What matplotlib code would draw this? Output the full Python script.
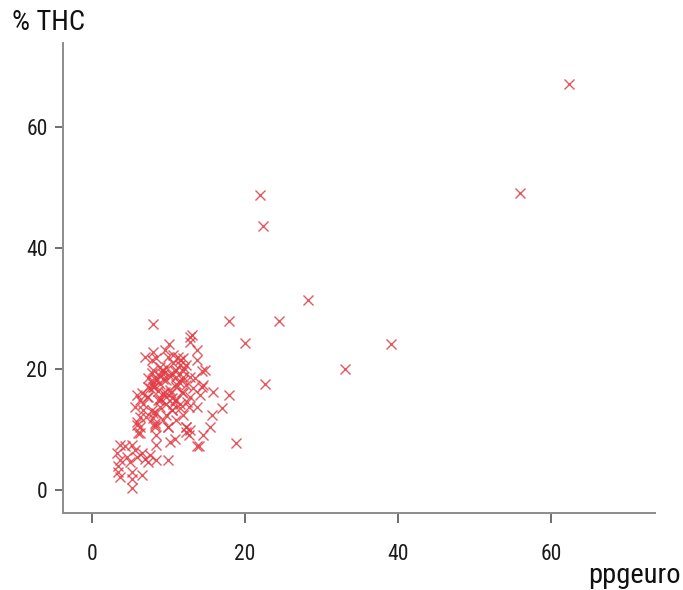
import matplotlib
matplotlib.use('Agg')
import matplotlib.pyplot as plt

plt.rcParams['font.family'] = ['Roboto Condensed', 'DejaVu Sans Condensed',
                               'Liberation Sans Narrow', 'Roboto', 'DejaVu Sans']

# price per gram (euro) vs THC percentage
ppgeuro = [
    62.4, 55.9, 21.9, 22.3, 28.2, 39.1, 33.0, 24.4, 17.9, 20.0, 22.6, 18.8, 7.9,
    17.9, 17.0, 15.8, 15.7, 15.4, 14.5, 13.9, 14.3, 14.3, 12.8, 13.7, 13.7, 14.7,
    3.6, 4.3, 5.2, 5.6, 3.2, 3.6, 4.5, 4.9, 5.8, 6.5, 6.9, 7.3, 7.5, 8.4, 9.9,
    3.4, 3.4, 3.6, 5.2, 5.2, 6.5, 5.2, 8.4, 10.2, 10.8, 6.2, 6.0, 5.8, 8.2, 8.4,
    9.9, 12.3, 12.6, 13.7,
    13.0, 12.8, 10.1, 9.5, 8.0, 6.9, 7.8, 8.4, 10.6, 11.2, 11.9, 11.5, 12.3,
    14.5, 7.3, 7.8, 8.4, 8.0, 8.9, 6.5, 7.3, 6.2, 5.6, 6.7, 7.8, 8.9, 9.7, 10.6,
    8.0, 8.2, 5.8, 6.2, 9.9, 11.0, 11.9, 12.3, 11.9, 12.8, 13.2, 12.3, 11.0,
    11.0, 9.7, 9.3, 9.7, 8.9, 8.0, 10.2, 9.3, 10.4, 11.0, 11.5, 8.9, 8.4, 9.7,
    10.4, 11.5, 14.1, 13.7, 12.6, 12.8, 13.4, 11.9, 10.8, 11.9, 7.3, 5.8,
    8.9, 9.3, 10.6, 11.4, 7.6, 8.6, 9.0, 10.0, 12.0, 7.0, 9.2, 10.9, 12.4, 8.1,
    10.3,
    7.8, 8.4, 8.0, 9.1, 10.4, 11.0, 11.9, 8.6, 9.7, 10.8, 10.4, 8.0, 8.2, 9.3,
    12.3, 12.8, 7.1, 6.7, 6.2, 9.9, 11.5, 9.5, 11.7,
]
thc = [
    67.1, 49.1, 48.8, 43.6, 31.4, 24.1, 20.0, 27.9, 27.9, 24.3, 17.5, 7.8, 27.5,
    15.7, 13.6, 16.2, 12.4, 10.5, 9.1, 7.3, 19.6, 17.1, 25.3, 23.1, 21.5, 19.8,
    7.4, 7.2, 7.4, 6.6, 6.1, 5.0, 5.5, 4.7, 5.5, 6.1, 5.2, 4.7, 5.8, 5.0, 5.0,
    3.9, 3.0, 2.2, 3.0, 1.9, 2.5, 0.3, 7.4, 8.0, 8.4, 10.5, 9.4, 11.3, 10.5, 9.1,
    10.5, 9.6, 9.1, 7.2,
    25.6, 24.5, 24.2, 23.1, 22.9, 22.0, 21.5, 21.8, 22.3, 22.0, 21.8, 20.7, 20.7,
    17.4, 18.5, 18.2, 18.5, 17.6, 17.6, 16.0, 15.4, 14.9, 13.8, 13.2, 13.2, 14.9,
    15.4, 14.3,
    11.9, 10.7, 10.7, 9.4, 10.5, 11.6, 12.4, 10.5, 16.0, 15.4, 16.8, 17.4, 18.7,
    17.1, 18.2, 19.6, 20.4, 20.4, 19.8, 16.5, 16.0, 15.2, 14.9, 14.3, 13.8, 12.7,
    12.4,
    13.2, 13.5, 15.7, 13.8, 13.8, 18.7, 18.5, 19.6, 19.6, 18.2, 17.1, 15.7,
    18.9, 19.2, 21.0, 17.9, 16.8, 16.3, 15.0, 19.0, 20.1, 12.0, 18.3, 19.9,
    14.6, 17.0, 16.0,
    19.3, 18.2, 17.1, 19.8, 19.0, 17.6, 18.7, 14.9, 14.3, 14.9, 13.2, 12.7, 11.0,
    11.6, 10.5, 9.9, 15.4, 14.3, 12.1, 22.0, 21.5, 16.2, 16.2,
]

fig = plt.figure(figsize=(6.83, 5.90), dpi=100)
ax = fig.add_axes([0.0922, 0.1305, 0.8668, 0.7965])

ax.plot(ppgeuro, thc, linestyle='none', marker='x', markersize=6.5,
        markeredgewidth=1.0, color='#e23b44', alpha=0.85)

ax.set_xlim(-3.83, 73.6)
ax.set_ylim(-3.8, 73.9)
ax.set_xticks([0, 20, 40, 60])
ax.set_yticks([0, 20, 40, 60])

for side in ('top', 'right'):
    ax.spines[side].set_visible(False)
for side in ('left', 'bottom'):
    ax.spines[side].set_color('#8c8c8c')
    ax.spines[side].set_linewidth(1.4)

ax.tick_params(axis='x', length=7, width=1.2, color='#555555', pad=15,
               labelsize=15.5, labelcolor='#1a1a1a')
ax.tick_params(axis='y', length=6, width=1.2, color='#555555', pad=5,
               labelsize=15.5, labelcolor='#1a1a1a')

fig.text(0.017, 0.962, '% THC', fontsize=20.5, color='#111111',
         ha='left', va='center')
fig.text(0.996, 0.024, 'ppgeuro', fontsize=20.5, color='#111111',
         ha='right', va='center')

fig.savefig('out.png', dpi=100)
plt.close(fig)
